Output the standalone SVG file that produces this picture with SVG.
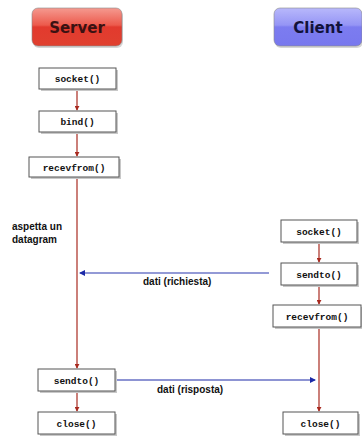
<svg xmlns="http://www.w3.org/2000/svg" width="362" height="437" viewBox="0 0 362 437">
<defs>
<linearGradient id="gRed" x1="0" y1="0" x2="0" y2="1">
<stop offset="0" stop-color="#f59a90"/>
<stop offset="0.45" stop-color="#ec5a4c"/>
<stop offset="0.5" stop-color="#e23a2e"/>
<stop offset="1" stop-color="#e0402f"/>
</linearGradient>
<linearGradient id="gBlue" x1="0" y1="0" x2="0" y2="1">
<stop offset="0" stop-color="#b8b8fb"/>
<stop offset="0.45" stop-color="#9595f5"/>
<stop offset="0.5" stop-color="#7c7cf0"/>
<stop offset="1" stop-color="#7878ee"/>
</linearGradient>
<marker id="arR" viewBox="0 0 6 6" refX="5" refY="3" markerWidth="5" markerHeight="5" orient="auto" markerUnits="userSpaceOnUse">
<path d="M0,0 L6,3 L0,6 z" fill="#a82a20"/>
</marker>
<marker id="arB" viewBox="0 0 6 6" refX="5" refY="3" markerWidth="6" markerHeight="6" orient="auto" markerUnits="userSpaceOnUse">
<path d="M0,0 L6,3 L0,6 z" fill="#1c2aa8"/>
</marker>
</defs>
<style>
.btn{stroke:#8a8a8a;stroke-width:0.6}
.btnt{font-family:"DejaVu Sans",sans-serif;font-weight:bold;font-size:15px;text-anchor:middle}
.srvt{fill:#3a1212}
.clit{fill:#12123a}
.box{fill:#fff;stroke:#555;stroke-width:1}
.sh{fill:#c8c8c8}
.bt{font-family:"Liberation Mono",monospace;font-weight:bold;font-size:9.5px;text-anchor:middle;fill:#111}
.lab{font-family:"Liberation Sans",sans-serif;font-weight:bold;font-size:10px;fill:#111}
.red{stroke:#a82a20;stroke-width:1.2;fill:none}
</style>
<g id="server">
<rect x="33" y="10" width="90" height="38" rx="6" fill="#bbb" opacity="0.6"/>
<rect class="btn" x="32" y="8" width="90" height="38" rx="6" fill="url(#gRed)"/>
<text class="btnt srvt" x="77" y="33">Server</text>
</g>
<g id="client">
<rect x="275" y="10" width="88" height="38" rx="6" fill="#bbb" opacity="0.6"/>
<rect class="btn" x="274" y="8" width="88" height="38" rx="6" fill="url(#gBlue)"/>
<text class="btnt clit" x="318" y="33">Client</text>
</g>
<g id="connectors">
<line class="red" x1="77" y1="89" x2="77" y2="110" marker-end="url(#arR)"/>
<line class="red" x1="77" y1="133" x2="77" y2="156" marker-end="url(#arR)"/>
<line class="red" x1="77" y1="177" x2="77" y2="368" marker-end="url(#arR)"/>
<line class="red" x1="77" y1="392" x2="77" y2="411" marker-end="url(#arR)"/>
<line class="red" x1="319" y1="242" x2="319" y2="262" marker-end="url(#arR)"/>
<line class="red" x1="319" y1="285" x2="319" y2="304" marker-end="url(#arR)"/>
<line class="red" x1="319" y1="327" x2="319" y2="411" marker-end="url(#arR)"/>
<line x1="269" y1="273" x2="80" y2="273" stroke="#6f78c8" stroke-width="1.5" marker-end="url(#arB)"/>
<line x1="115" y1="380" x2="315" y2="380" stroke="#1c2aa8" stroke-width="1.2" marker-end="url(#arB)"/>
<text class="lab" x="143" y="285">dati (richiesta)</text>
<text class="lab" x="157" y="393">dati (risposta)</text>
</g>
<text class="lab" x="12" y="230">aspetta un</text>
<text class="lab" x="12" y="243">datagram</text>
<g id="s_socket"><rect class="sh" x="41" y="70" width="77" height="21"/><rect class="box" x="39" y="68" width="77" height="21"/><text class="bt" x="77.5" y="82">socket()</text></g>
<g id="s_bind"><rect class="sh" x="41" y="113" width="77" height="21"/><rect class="box" x="39" y="111" width="77" height="21"/><text class="bt" x="77.5" y="125">bind()</text></g>
<g id="s_recv"><rect class="sh" x="31" y="159" width="90" height="20"/><rect class="box" x="29" y="157" width="90" height="20"/><text class="bt" x="74" y="170.5">recevfrom()</text></g>
<g id="s_sendto"><rect class="sh" x="40" y="371" width="77" height="22"/><rect class="box" x="38" y="369" width="77" height="22"/><text class="bt" x="76.5" y="383.5">sendto()</text></g>
<g id="s_close"><rect class="sh" x="40" y="414" width="77" height="22"/><rect class="box" x="38" y="412" width="77" height="22"/><text class="bt" x="76.5" y="426.5">close()</text></g>
<g id="c_socket"><rect class="sh" x="283" y="222" width="76" height="22"/><rect class="box" x="281" y="220" width="76" height="22"/><text class="bt" x="319" y="234.5">socket()</text></g>
<g id="c_sendto"><rect class="sh" x="283" y="265" width="76" height="22"/><rect class="box" x="281" y="263" width="76" height="22"/><text class="bt" x="319" y="277.5">sendto()</text></g>
<g id="c_recv"><rect class="sh" x="275" y="307" width="88" height="22"/><rect class="box" x="273" y="305" width="88" height="22"/><text class="bt" x="317" y="319.5">recevfrom()</text></g>
<g id="c_close"><rect class="sh" x="285" y="414" width="75" height="22"/><rect class="box" x="283" y="412" width="75" height="22"/><text class="bt" x="320.5" y="426.5">close()</text></g>
</svg>
